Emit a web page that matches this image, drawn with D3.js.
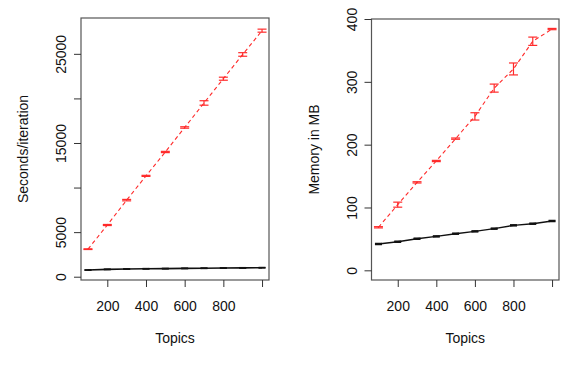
<!DOCTYPE html>
<html>
<head>
<meta charset="utf-8">
<script src="https://cdn.jsdelivr.net/npm/d3@7"></script>
<style>
    body { margin: 0; background: #fff; }
    svg { display: block; font-family: "Liberation Sans", Arial, Helvetica, sans-serif; }
    .tick line { stroke: #333; }
    .tick text { font-size: 14px; fill: #111; }
    .title { font-size: 14px; fill: #111; }
</style>
</head>
<body>
<svg id="chart" width="583" height="365"></svg>
<script>
// data
const topics = [100, 200, 300, 400, 500, 600, 700, 800, 900, 1000];

const secsRed = [3090, 5800, 8590, 11310, 13990, 16740, 19490, 22210, 24930, 27600];
const secsRedErr = [40, 60, 80, 60, 70, 80, 250, 170, 200, 170];
const secsBlack = [750, 820, 860, 890, 910, 930, 950, 970, 990, 1010];
const secsBlackErr = [20, 20, 20, 20, 20, 20, 20, 20, 20, 20];

const memRed = [68.5, 104.5, 140, 174, 209.6, 245, 290, 320.5, 364.6, 384];
const memRedErr = [1, 4, 1, 1, 1, 5.8, 6.4, 9.5, 6.6, 1];
const memBlack = [41.9, 45.5, 50.3, 54, 58.3, 62, 66.3, 71.6, 74.2, 78.5];
const memBlackErr = [0.8, 0.8, 0.8, 0.8, 0.8, 0.8, 0.8, 0.8, 0.8, 0.8];

const xTicks = [200, 400, 600, 800, 1000];
const xLabels = [200, 400, 600, 800];
const secsTicks = [0, 5000, 10000, 15000, 20000, 25000];
const secsLabels = [0, 5000, 15000, 25000];
const memTicks = [0, 100, 200, 300, 400];
const memLabels = [0, 100, 200, 300, 400];

const svg = d3.select("#chart");

function drawPanel(opt) {
    const g = svg.append("g");
    const x = d3.scaleLinear().domain([64, 1036]).range([opt.left, opt.right]);
    const y = d3.scaleLinear().domain(opt.yDomain).range([opt.bottom, opt.top]);

    // box
    g.append("rect")
        .attr("x", opt.left).attr("y", opt.top)
        .attr("width", opt.right - opt.left).attr("height", opt.bottom - opt.top)
        .attr("fill", "none").attr("stroke", "#555").attr("stroke-width", 1.2);

    // x axis
    const xa = g.append("g")
        .attr("transform", `translate(0,${opt.bottom})`)
        .call(d3.axisBottom(x).tickValues(xTicks).tickSize(7).tickSizeOuter(0)
            .tickFormat(d => xLabels.includes(d) ? d : ""));
    xa.select(".domain").remove();
    xa.selectAll(".tick text").attr("y", 21).attr("dy", "0.71em").attr("font-family", null).attr("font-size", null);

    // y axis
    const ya = g.append("g")
        .attr("transform", `translate(${opt.left},0)`)
        .call(d3.axisLeft(y).tickValues(opt.yTicks).tickSize(7).tickSizeOuter(0)
            .tickFormat(d => opt.yLabels.includes(d) ? d : ""));
    ya.select(".domain").remove();
    ya.selectAll(".tick text")
        .attr("transform", "rotate(-90)")
        .attr("text-anchor", "middle")
        .attr("x", 0).attr("y", -15).attr("dy", null)
        .attr("font-family", null).attr("font-size", null);

    // titles
    g.append("text").attr("class", "title")
        .attr("x", (opt.left + opt.right) / 2).attr("y", 343)
        .attr("text-anchor", "middle")
        .text("Topics");
    g.append("text").attr("class", "title")
        .attr("transform", `translate(${opt.left - 53},${(opt.top + opt.bottom) / 2}) rotate(-90)`)
        .attr("text-anchor", "middle")
        .text(opt.yTitle);

    // series
    opt.series.forEach(s => {
        const line = d3.line().x((d, i) => x(topics[i])).y(d => y(d));
        g.append("path")
            .datum(s.values)
            .attr("d", line)
            .attr("fill", "none")
            .attr("stroke", s.color)
            .attr("stroke-width", s.width)
            .attr("stroke-dasharray", s.dash);

        const bars = g.append("g").attr("stroke", s.color).attr("stroke-width", s.capWidth);
        s.values.forEach((v, i) => {
            const cx = x(topics[i]);
            const y0 = y(v - s.err[i]);
            const y1 = y(v + s.err[i]);
            bars.append("line").attr("x1", cx).attr("x2", cx).attr("y1", y0).attr("y2", y1);
            bars.append("line").attr("x1", cx - s.cap).attr("x2", cx + s.cap).attr("y1", y0).attr("y2", y0);
            bars.append("line").attr("x1", cx - s.cap).attr("x2", cx + s.cap).attr("y1", y1).attr("y2", y1);
        });
    });
}

drawPanel({
    left: 81, right: 269, top: 18, bottom: 280,
    yDomain: [-369, 29020],
    yTicks: secsTicks, yLabels: secsLabels,
    yTitle: "Seconds/iteration",
    series: [
        { values: secsBlack, err: secsBlackErr, color: "#111", width: 1.6, dash: null, cap: 3.5, capWidth: 1.5 },
        { values: secsRed, err: secsRedErr, color: "#ff2a2a", width: 1.1, dash: "4,3", cap: 4.5, capWidth: 1.2 }
    ]
});

drawPanel({
    left: 371.5, right: 559, top: 19, bottom: 280,
    yDomain: [-15.4, 400],
    yTicks: memTicks, yLabels: memLabels,
    yTitle: "Memory in MB",
    series: [
        { values: memBlack, err: memBlackErr, color: "#111", width: 1.4, dash: null, cap: 3.5, capWidth: 1.5 },
        { values: memRed, err: memRedErr, color: "#ff2a2a", width: 1.1, dash: "4,3", cap: 4.5, capWidth: 1.2 }
    ]
});
</script>
</body>
</html>
